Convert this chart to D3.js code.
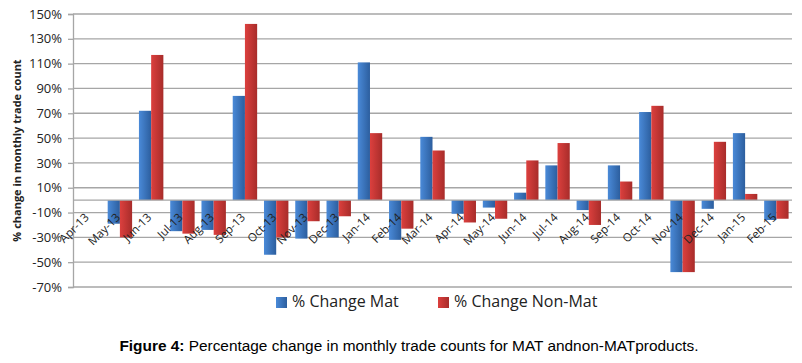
<!DOCTYPE html>
<html>
<head>
<meta charset="utf-8">
<script src="https://cdn.jsdelivr.net/npm/d3@7"></script>
<style>
  body { margin: 0; background: #fff; }
  svg { display: block; }
</style>
</head>
<body>
<script>
// months along the x axis
const months = ['Apr-13','May-13','Jun-13','Jul-13','Aug-13','Sep-13','Oct-13','Nov-13','Dec-13',
  'Jan-14','Feb-14','Mar-14','Apr-14','May-14','Jun-14','Jul-14','Aug-14','Sep-14','Oct-14',
  'Nov-14','Dec-14','Jan-15','Feb-15'];
// % change
const changeMat    = [0, -19, 72, -25, -24, 84, -44, -31, -30, 111, -32, 51, -11, -6, 6, 28, -8, 28, 71, -58, -7, 54, -16];
const changeNonMat = [0, -30, 117, -27, -28, 142, -30, -17, -13, 54, -23, 40, -18, -15, 32, 46, -20, 15, 76, -58, 47, 5, -15];
const yTicks = [150, 130, 110, 90, 70, 50, 30, 10, -10, -30, -50, -70];
const seriesNames = ['% Change Mat', '% Change Non-Mat'];

function main(){
    const width = 802, height = 363;
    const left = 73, right = 792, top = 14, bottom = 287;
    const font = '"Open Sans", sans-serif';

    const svg = d3.select('body').append('svg')
        .attr('width', width)
        .attr('height', height);

    const defs = svg.append('defs');
    const grads = [['gBlue', '#4a8ad8', '#2c5e9e'], ['gRed', '#dc403e', '#a82c2a']];
    grads.forEach(g => {
        const lg = defs.append('linearGradient').attr('id', g[0])
            .attr('x1', 0).attr('y1', 0).attr('x2', 1).attr('y2', 0);
        lg.append('stop').attr('offset', '0%').attr('stop-color', g[1]);
        lg.append('stop').attr('offset', '100%').attr('stop-color', g[2]);
    });

    const x = d3.scaleBand().domain(months).range([left, right]);
    const xs = d3.scaleBand().domain([0, 1]).range([0, x.bandwidth()]).paddingInner(0).paddingOuter(0.28);
    const y = d3.scaleLinear().domain([-70, 150]).range([bottom, top]);

    // gridlines
    svg.append('g').selectAll('line').data(yTicks).enter().append('line')
        .attr('x1', left).attr('x2', right)
        .attr('y1', d => y(d)).attr('y2', d => y(d))
        .attr('stroke', '#a6a6a6').attr('stroke-width', 1.3);

    // y axis
    const yAxis = svg.append('g')
        .attr('transform', `translate(${left},0)`)
        .call(d3.axisLeft(y).tickValues(yTicks).tickFormat(d => d + '%').tickSize(5).tickPadding(6));
    yAxis.select('.domain').attr('stroke', '#a6a6a6').attr('stroke-width', 1.3);
    yAxis.selectAll('.tick line').attr('stroke', '#a6a6a6').attr('stroke-width', 1.3);
    yAxis.selectAll('text').attr('font-family', font)
        .attr('font-size', 13).attr('fill', '#222');

    const series = [changeMat, changeNonMat];
    const fills = ['url(#gBlue)', 'url(#gRed)'];
    series.forEach((vals, s) => {
        svg.append('g').selectAll('rect').data(vals).enter().append('rect')
            .attr('x', (d, i) => x(months[i]) + xs(s))
            .attr('width', xs.bandwidth())
            .attr('y', d => y(Math.max(0, d)))
            .attr('height', d => Math.abs(y(d) - y(0)))
            .attr('fill', fills[s]);
    });

    // zero line
    svg.append('line')
        .attr('x1', left).attr('x2', right)
        .attr('y1', y(0)).attr('y2', y(0))
        .attr('stroke', '#a6a6a6').attr('stroke-width', 1.3);

    // month labels
    svg.append('g').selectAll('text').data(months).enter().append('text')
        .attr('transform', d => `translate(${x(d) + x.bandwidth() / 2 + 1},${y(0) + 18}) rotate(-45)`)
        .attr('text-anchor', 'end')
        .attr('font-family', font)
        .attr('font-size', 11.5)
        .attr('fill', '#222')
        .text(d => d);

    // y title
    svg.append('text')
        .attr('transform', `translate(21,${(top + bottom) / 2}) rotate(-90)`)
        .attr('text-anchor', 'middle')
        .attr('font-family', font)
        .attr('font-size', 11).attr('font-weight', 'bold')
        .attr('fill', '#222')
        .text('% change in monthly trade count');

    // legend
    const legX = [276, 438];
    seriesNames.forEach((n, s) => {
        svg.append('rect').attr('x', legX[s]).attr('y', 297)
            .attr('width', 11).attr('height', 11).attr('fill', fills[s]);
        svg.append('text').attr('x', legX[s] + 16).attr('y', 307)
            .attr('font-family', font)
            .attr('font-size', 16).attr('fill', '#222')
            .text(n);
    });

    // caption
    const cap = svg.append('text').attr('x', 409).attr('y', 351)
        .attr('text-anchor', 'middle')
        .attr('font-family', '"Liberation Sans", Arial, sans-serif')
        .attr('font-size', 15.4).attr('fill', '#000');
    cap.append('tspan').attr('font-weight', 'bold').text('Figure 4:');
    cap.append('tspan').text(' Percentage change in monthly trade counts for MAT andnon-MATproducts.');
}

main()
</script>
</body>
</html>
